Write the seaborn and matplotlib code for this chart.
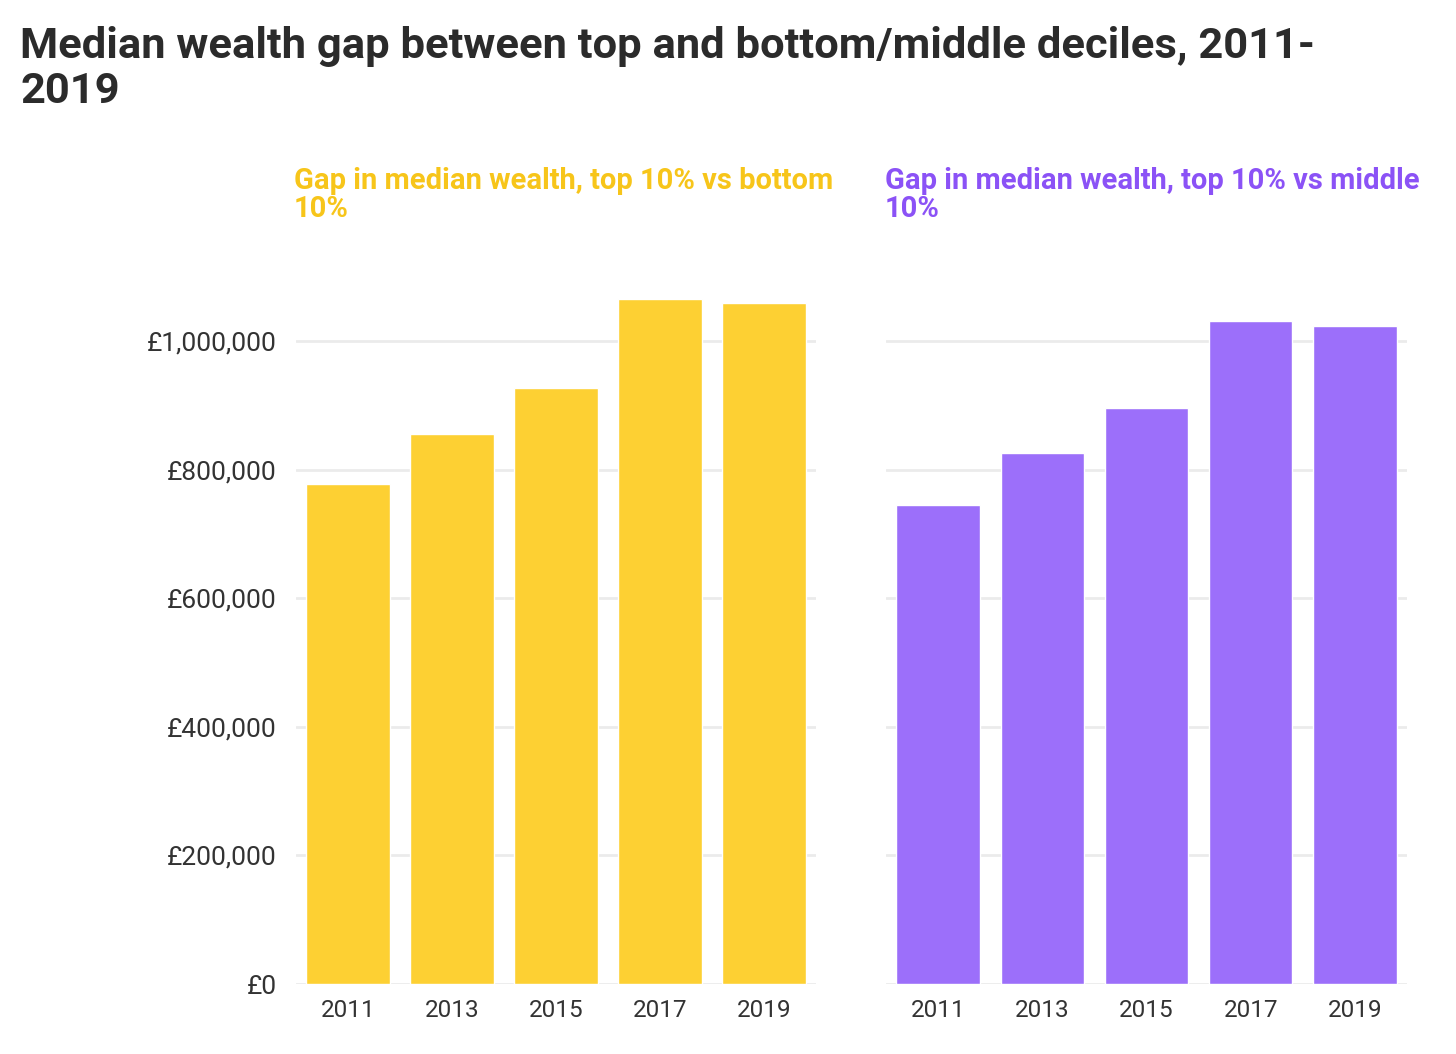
import matplotlib
matplotlib.use("Agg")
import matplotlib.pyplot as plt
import seaborn as sns
import pandas as pd
from matplotlib.ticker import FuncFormatter

years = ["2011", "2013", "2015", "2017", "2019"]
gap_bottom = [778000, 855000, 928000, 1065000, 1059000]
gap_middle = [746000, 826000, 896000, 1031000, 1023000]
yticks = [0, 200000, 400000, 600000, 800000, 1000000]

title = "Median wealth gap between top and bottom/middle deciles, 2011-\n2019"
sub_left = "Gap in median wealth, top 10% vs bottom\n10%"
sub_right = "Gap in median wealth, top 10% vs middle\n10%"

yellow = "#FDD033"
purple = "#9C6FFA"
yellow_txt = "#F7C51A"
purple_txt = "#8B52F6"

sns.set_theme(style="white")
plt.rcParams['font.family'] = ['Roboto', 'DejaVu Sans']

df_l = pd.DataFrame({"year": years, "value": gap_bottom})
df_r = pd.DataFrame({"year": years, "value": gap_middle})

fig = plt.figure(figsize=(14.56, 10.54), dpi=100)
ax1 = fig.add_axes([296/1456, 1-984/1054, 520/1456, 707/1054])
ax2 = fig.add_axes([886/1456, 1-984/1054, 521/1456, 707/1054])

for ax, df, col in [(ax1, df_l, yellow), (ax2, df_r, purple)]:
    sns.barplot(data=df, x="year", y="value", color=col, saturation=1, width=0.8, ax=ax, zorder=3)
    ax.set_ylim(0, 1100000)
    ax.set_xlim(-0.5, 4.5)
    ax.set_yticks(yticks)
    ax.yaxis.grid(True, color="#ebebeb", linewidth=2, zorder=0)
    ax.set_axisbelow(True)
    for s in ax.spines.values():
        s.set_visible(False)
    ax.set_xlabel("")
    ax.set_ylabel("")
    ax.tick_params(axis="x", length=0, pad=11, labelsize=17.5, labelcolor="#333333")
    ax.tick_params(axis="y", length=0, pad=14, labelsize=19, labelcolor="#333333")

ax1.yaxis.set_major_formatter(FuncFormatter(lambda v, p: "£{:,.0f}".format(v)))
ax2.set_yticklabels([])

fig.text(20/1456, 1-26/1054, title, ha="left", va="top", fontsize=31.3, fontweight="bold",
         color="#2b2b2b", linespacing=1.12)
fig.text(294/1456, 1-167/1054, sub_left, ha="left", va="top", fontsize=21, fontweight="bold",
         color=yellow_txt, linespacing=0.98)
fig.text(885/1456, 1-167/1054, sub_right, ha="left", va="top", fontsize=21, fontweight="bold",
         color=purple_txt, linespacing=0.98)

fig.savefig("out.png", dpi=100, facecolor="white")
